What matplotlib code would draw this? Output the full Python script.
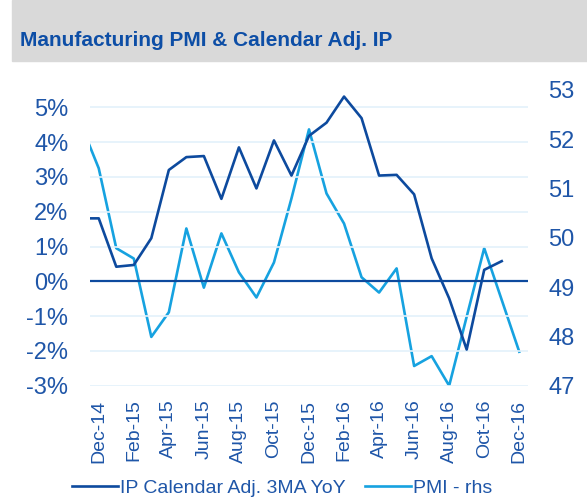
import numpy as np
import matplotlib.pyplot as plt
from matplotlib.patches import Rectangle

plt.rcParams['font.family'] = ['Liberation Sans', 'DejaVu Sans']

# monthly data, Nov-14 .. Dec-16 (Nov-14 sits just left of the plot and gets clipped)
months = ['Nov-14', 'Dec-14', 'Jan-15', 'Feb-15', 'Mar-15', 'Apr-15', 'May-15', 'Jun-15',
          'Jul-15', 'Aug-15', 'Sep-15', 'Oct-15', 'Nov-15', 'Dec-15', 'Jan-16', 'Feb-16',
          'Mar-16', 'Apr-16', 'May-16', 'Jun-16', 'Jul-16', 'Aug-16', 'Sep-16', 'Oct-16',
          'Nov-16', 'Dec-16']
ip_yoy = [1.81, 1.81, 0.42, 0.47, 1.24, 3.20, 3.57, 3.60, 2.37, 3.85, 2.67, 4.05, 3.04,
          4.18, 4.56, 5.31, 4.69, 3.04, 3.06, 2.50, 0.66, -0.49, -1.96, 0.33, 0.58, np.nan]
pmi = [52.29, 51.41, 49.79, 49.58, 47.99, 48.49, 50.19, 48.99, 50.09, 49.30, 48.79, 49.50,
       50.8, 52.20, 50.90, 50.29, 49.20, 48.89, 49.38, 47.40, 47.60, 47.0, 48.4, 49.79,
       48.74, 47.69]
left_ticks = [-3, -2, -1, 0, 1, 2, 3, 4, 5]
right_ticks = [47, 48, 49, 50, 51, 52, 53]

dark = '#0D4A9E'
light = '#16A2E0'
txt = '#1F56A8'

x = np.arange(len(months)) - 1  # Dec-14 -> 0

fig = plt.figure(figsize=(5.87, 5.04), dpi=100)
fig.patches.append(Rectangle((12 / 587, 1 - 61 / 504), 1, 61 / 504, transform=fig.transFigure,
                             color='#D9D9D9', zorder=0))
fig.text(20 / 587, 1 - 41 / 504, 'Manufacturing PMI & Calendar Adj. IP', fontsize=15,
         fontweight='bold', color='#0D4EA6', va='center', ha='left')

ax = fig.add_axes([0.1533, 0.2347, 0.7462, 0.5868])
ax2 = ax.twinx()

for a in (ax, ax2):
    for s in a.spines.values():
        s.set_visible(False)
    a.tick_params(length=0, colors=txt, labelsize=17)

ax.set_xlim(-0.5, 24.5)
ax.set_ylim(-3, 5.5)
ax.set_yticks(left_ticks)
ax.set_yticklabels(['%d%%' % t for t in left_ticks])
ax.grid(axis='y', color='#E3F1FB', lw=1.2)
ax.set_axisbelow(True)
ax.axhline(0, color=dark, lw=1.6, zorder=2)
ax.tick_params(axis='y', pad=15.5)

ax2.set_ylim(47, 53)
ax2.set_yticks(right_ticks)
ax2.tick_params(axis='y', pad=14.5)

ax.set_xticks(x[1::2])
ax.set_xticklabels(months[1::2], rotation=90)
ax.tick_params(axis='x', pad=10, labelsize=14)

l1, = ax.plot(x, ip_yoy, color=dark, lw=1.9, zorder=3, label='IP Calendar Adj. 3MA YoY')
l2, = ax2.plot(x, pmi, color=light, lw=1.9, zorder=3, label='PMI - rhs')
ax.set_zorder(ax2.get_zorder() + 1)
ax.patch.set_visible(False)

leg = fig.legend(handles=[l1, l2], loc='center', bbox_to_anchor=(282 / 587, 1 - 488 / 504),
                 ncol=2, frameon=False, fontsize=14, handlelength=2.35, handletextpad=0.1,
                 columnspacing=1.0)
for t in leg.get_texts():
    t.set_color(txt)

fig.savefig('out.png', dpi=100)
